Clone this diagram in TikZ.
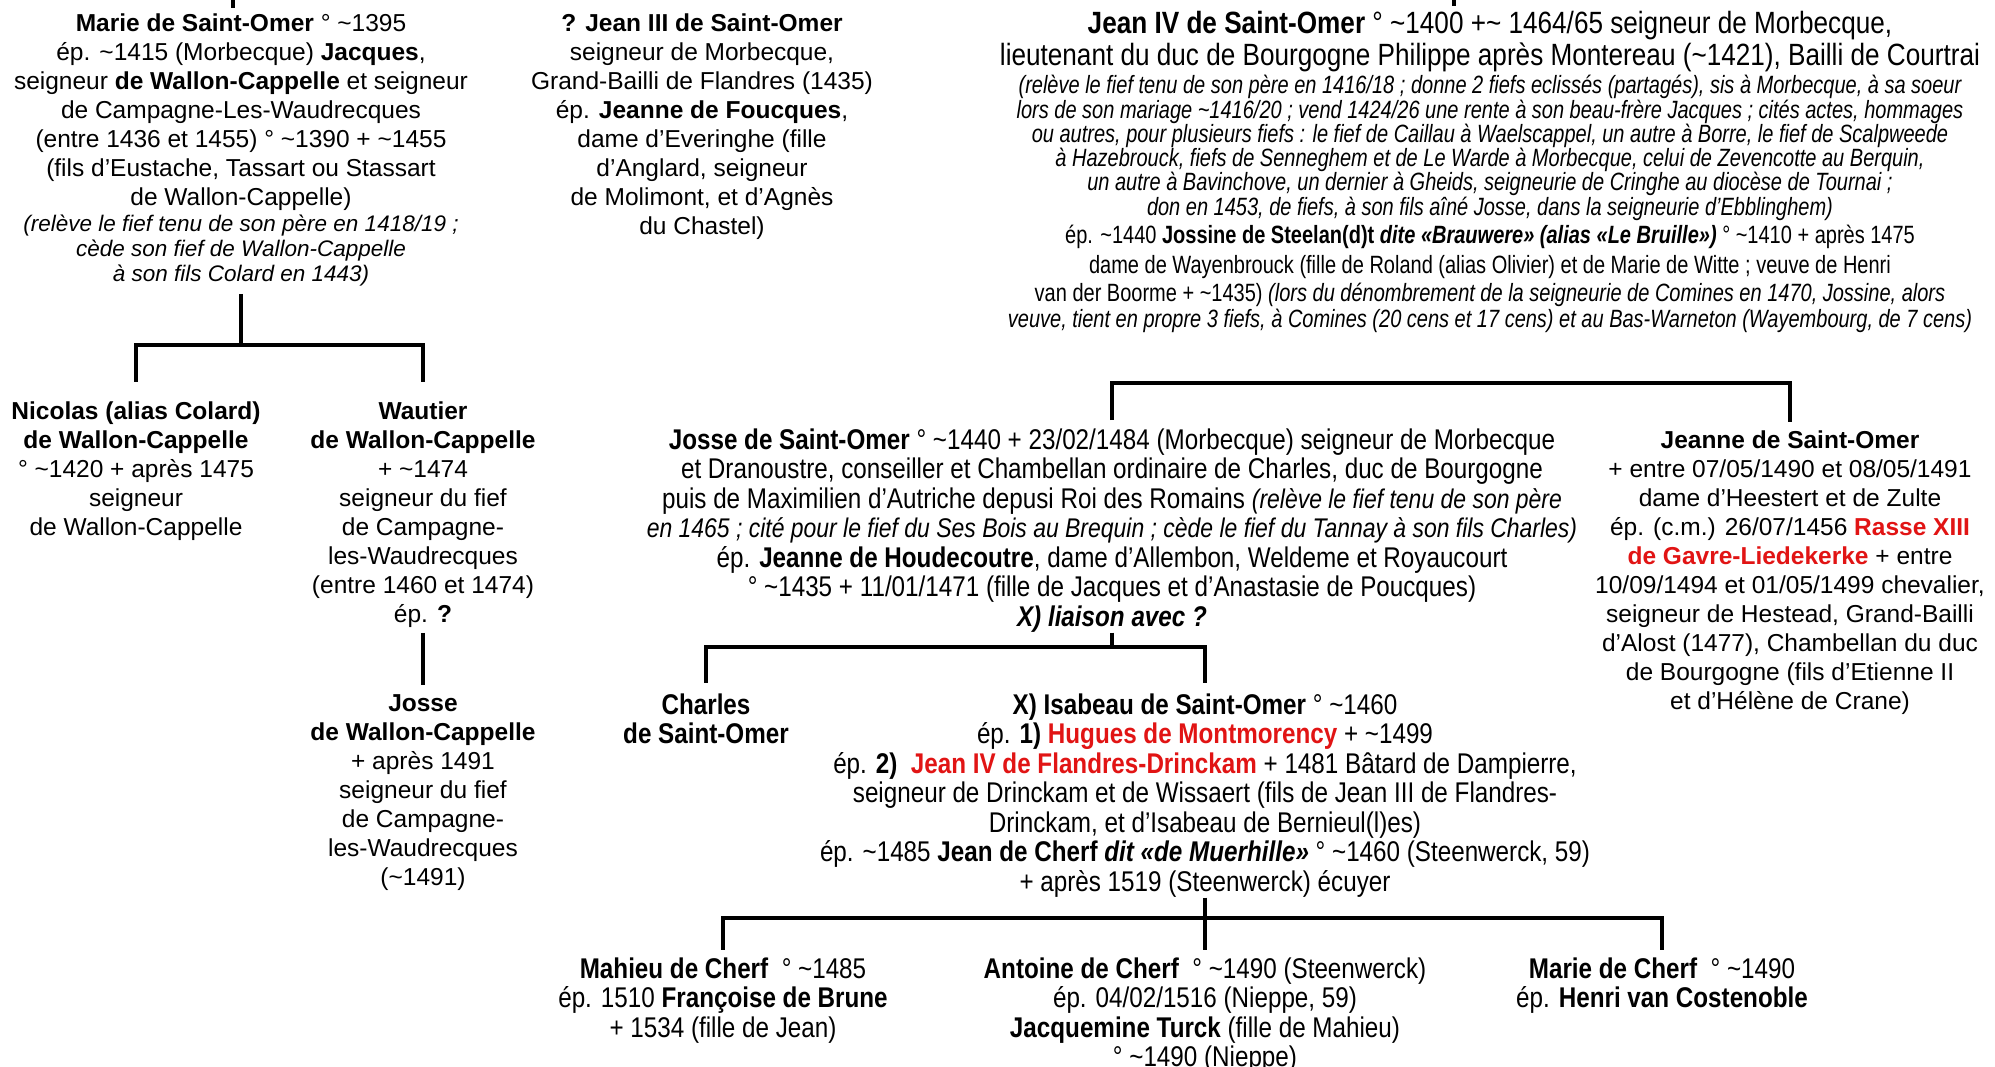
\documentclass[tikz,border=0pt]{standalone}
\usepackage{fontspec}
\setmainfont{Liberation Sans}
\newfontfamily\narrow[FakeStretch=0.85]{Liberation Sans}
\newfontfamily\condensed[FakeStretch=0.8]{Liberation Sans}
\definecolor{namered}{RGB}{225,20,20}
\newcommand\circa{\textasciitilde}
\newcommand\aside[2][9pt]{{\fontsize{#1}{#1}\selectfont\itshape #2}}
\newcommand\squeeze[1]{{\condensed\fontsize{10pt}{10pt}\selectfont #1}}
\lineskiplimit=-\maxdimen

\begin{document}
\begin{tikzpicture}[
    x=0.4pt,y=-0.4pt,
    person/.style={align=center,inner sep=0pt,anchor=north,
      font=\fontsize{9.8pt}{11.6pt}\selectfont},
    narrowperson/.style={person,font=\narrow\fontsize{11.4pt}{11.8pt}\selectfont},
    link/.style={line width=1.4pt}
  ]
    \useasboundingbox (0,0) rectangle (1995,1067);

    \node[person] (marie) at (241,13) {\textbf{Marie de Saint-Omer} ° \circa1395\\
      ép. \circa1415 (Morbecque) \textbf{Jacques},\\
      seigneur \textbf{de Wallon-Cappelle} et seigneur\\
      de Campagne-Les-Waudrecques\\
      (entre 1436 et 1455) ° \circa1390 + \circa1455\\
      (fils d’Eustache, Tassart ou Stassart\\
      de Wallon-Cappelle)\\[-1.2pt]
      \aside{(relève le fief tenu de son père en 1418/19 ;}\\[-1.6pt]
      \aside{cède son fief de Wallon-Cappelle}\\[-1.6pt]
      \aside{à son fils Colard en 1443)}};

    \node[person] (jeanIII) at (702,13) {\textbf{? Jean III de Saint-Omer}\\
      seigneur de Morbecque,\\
      Grand-Bailli de Flandres (1435)\\
      ép. \textbf{Jeanne de Foucques},\\
      dame d’Everinghe (fille\\
      d’Anglard, seigneur\\
      de Molimont, et d’Agnès\\
      du Chastel)};

    \node[narrowperson,font=\narrow\fontsize{12.3pt}{9.7pt}\selectfont] (jeanIV) at (1490,11)
      {\textbf{Jean IV de Saint-Omer} ° \circa1400 +\circa{} 1464/65 seigneur de Morbecque,\\[3.1pt]
      lieutenant du duc de Bourgogne Philippe après Montereau (\circa1421), Bailli de Courtrai\\[1.5pt]
      \squeeze{\itshape (relève le fief tenu de son père en 1416/18 ; donne 2 fiefs eclissés (partagés), sis à Morbecque, à sa soeur}\\
      \squeeze{\itshape lors de son mariage \circa1416/20 ; vend 1424/26 une rente à son beau-frère Jacques ; cités actes, hommages}\\
      \squeeze{\itshape ou autres, pour plusieurs fiefs : le fief de Caillau à Waelscappel, un autre à Borre, le fief de Scalpweede}\\
      \squeeze{\itshape à Hazebrouck, fiefs de Senneghem et de Le Warde à Morbecque, celui de Zevencotte au Berquin,}\\
      \squeeze{\itshape un autre à Bavinchove, un dernier à Gheids, seigneurie de Cringhe au diocèse de Tournai ;}\\
      \squeeze{\itshape don en 1453, de fiefs, à son fils aîné Josse, dans la seigneurie d’Ebblinghem)}\\[1.5pt]
      \squeeze{ép. \circa1440 \textbf{Jossine de Steelan(d)t \textit{dite «Brauwere» (alias «Le Bruille»)}} ° \circa1410 + après 1475}\\[2.6pt]
      \squeeze{dame de Wayenbrouck (fille de Roland (alias Olivier) et de Marie de Witte ; veuve de Henri}\\[1.5pt]
      \squeeze{van der Boorme + \circa1435) \textit{(lors du dénombrement de la seigneurie de Comines en 1470, Jossine, alors}}\\[0.5pt]
      \squeeze{\itshape veuve, tient en propre 3 fiefs, à Comines (20 cens et 17 cens) et au Bas-Warneton (Wayembourg, de 7 cens)}};

    \node[person] (nicolas) at (136,401) {\textbf{Nicolas (alias Colard)}\\
      \textbf{de Wallon-Cappelle}\\
      ° \circa1420 + après 1475\\
      seigneur\\
      de Wallon-Cappelle};

    \node[person] (wautier) at (423,401) {\textbf{Wautier}\\
      \textbf{de Wallon-Cappelle}\\
      + \circa1474\\
      seigneur du fief\\
      de Campagne-\\
      les-Waudrecques\\
      (entre 1460 et 1474)\\
      ép. \textbf{?}};

    \node[person] (jossewc) at (423,694) {\textbf{Josse}\\
      \textbf{de Wallon-Cappelle}\\
      + après 1491\\
      seigneur du fief\\
      de Campagne-\\
      les-Waudrecques\\
      (\circa1491)};

    \node[narrowperson] (josse) at (1112,428)
      {\textbf{Josse de Saint-Omer} ° \circa1440 + 23/02/1484 (Morbecque) seigneur de Morbecque\\
      et Dranoustre, conseiller et Chambellan ordinaire de Charles, duc de Bourgogne\\
      puis de Maximilien d’Autriche depusi Roi des Romains \aside[10.8pt]{(relève le fief tenu de son père}\\
      \aside[10.8pt]{en 1465 ; cité pour le fief du Ses Bois au Brequin ; cède le fief du Tannay à son fils Charles)}\\
      ép. \textbf{Jeanne de Houdecoutre}, dame d’Allembon, Weldeme et Royaucourt\\
      ° \circa1435 + 11/01/1471 (fille de Jacques et d’Anastasie de Poucques)\\
      \textbf{\textit{X) liaison avec ?}}};

    \node[person] (jeanne) at (1790,430) {\textbf{Jeanne de Saint-Omer}\\
      + entre 07/05/1490 et 08/05/1491\\
      dame d’Heestert et de Zulte\\
      ép. (c.m.) 26/07/1456 \textcolor{namered}{\textbf{Rasse XIII}}\\
      \textcolor{namered}{\textbf{de Gavre-Liedekerke}} + entre\\
      10/09/1494 et 01/05/1499 chevalier,\\
      seigneur de Hestead, Grand-Bailli\\
      d’Alost (1477), Chambellan du duc\\
      de Bourgogne (fils d’Etienne II\\
      et d’Hélène de Crane)};

    \node[narrowperson] (charles) at (706,693) {\textbf{Charles}\\ \textbf{de Saint-Omer}};

    \node[narrowperson] (isabeau) at (1205,693)
      {\textbf{X) Isabeau de Saint-Omer} ° \circa1460\\
      ép. \textbf{1)} \textcolor{namered}{\textbf{Hugues de Montmorency}} + \circa1499\\
      ép. \textbf{2)}\ \ \textcolor{namered}{\textbf{Jean IV de Flandres-Drinckam}} + 1481 Bâtard de Dampierre,\\
      seigneur de Drinckam et de Wissaert (fils de Jean III de Flandres-\\
      Drinckam, et d’Isabeau de Bernieul(l)es)\\
      ép. \circa1485 \textbf{Jean de Cherf \textit{dit «de Muerhille»}} ° \circa1460 (Steenwerck, 59)\\
      + après 1519 (Steenwerck) écuyer};

    \node[narrowperson] (mahieu) at (723,957) {\textbf{Mahieu de Cherf}\ \ ° \circa1485\\
      ép. 1510 \textbf{Françoise de Brune}\\
      + 1534 (fille de Jean)};

    \node[narrowperson] (antoine) at (1205,957) {\textbf{Antoine de Cherf}\ \ ° \circa1490 (Steenwerck)\\
      ép. 04/02/1516 (Nieppe, 59)\\
      \textbf{Jacquemine Turck} (fille de Mahieu)\\
      ° \circa1490 (Nieppe)};

    \node[narrowperson] (mariecherf) at (1662,957) {\textbf{Marie de Cherf}\ \ ° \circa1490\\
      ép. \textbf{Henri van Costenoble}};

    \coordinate (marietop) at (233,0);
    \coordinate (jeanIVtop) at (1454,0);
    \coordinate (mariefork) at (241,345);
    \coordinate (jossebar) at (1450,383);
    \coordinate (jossefork) at (1112,647);
    \coordinate (isabeaufork) at (1205,918);

    \draw[link,shorten >=2pt] (marietop) -- (marietop |- marie.north);
    \draw[link,shorten >=2pt] (jeanIVtop) -- (jeanIVtop |- jeanIV.north);

    \draw[link,shorten <=3pt] (marie.south) -- (mariefork);
    \draw[link,shorten >=7.6pt] (mariefork) -| (nicolas.north);
    \draw[link,shorten >=7.6pt] (mariefork) -| (wautier.north);
    \draw[link,shorten <=2pt,shorten >=3.6pt] (wautier.south) -- (jossewc.north);

    \draw[link,shorten <=3.2pt,shorten >=3.2pt] (josse.north) |- (jossebar) -| (jeanne.north);

    \draw[link] (josse.south) -- (jossefork);
    \draw[link,shorten >=4pt] (jossefork) -| (charles.north);
    \draw[link,shorten >=4pt] (jossefork) -| (isabeau.north);

    \draw[link] (isabeau.south) -- (isabeaufork);
    \draw[link,shorten >=2.8pt] (isabeaufork) -| (mahieu.north);
    \draw[link,shorten >=2.8pt] (isabeaufork) -- (antoine.north);
    \draw[link,shorten >=2.8pt] (isabeaufork) -| (mariecherf.north);
\end{tikzpicture}
\end{document}
